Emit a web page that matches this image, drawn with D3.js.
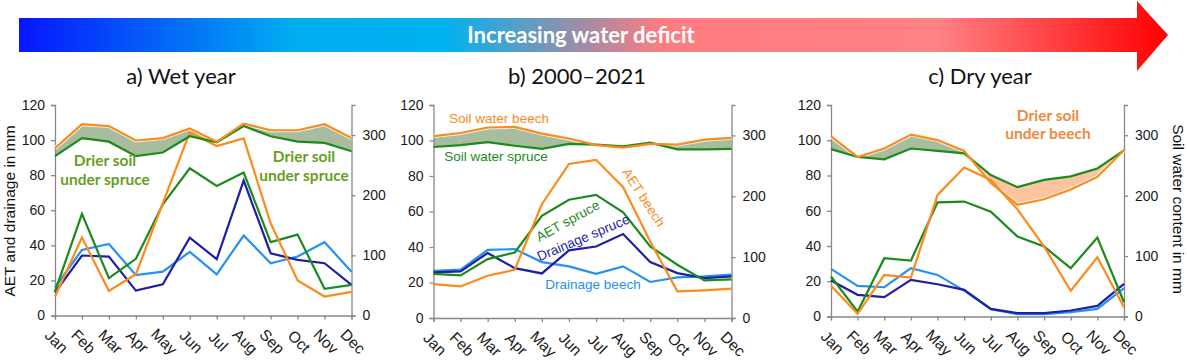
<!DOCTYPE html>
<html>
<head>
<meta charset="utf-8">
<script src="https://cdn.jsdelivr.net/npm/d3@7"></script>
<style>
  body { margin: 0; background: #fff; }
  svg { display: block; }
</style>
</head>
<body>
<div id="chart"></div>
<script>
// months on the x axis
var months = ["Jan","Feb","Mar","Apr","May","Jun","Jul","Aug","Sep","Oct","Nov","Dec"];
var leftTicks = [0, 20, 40, 60, 80, 100, 120];
var rightTicks = [0, 100, 200, 300];

// a) wet year
var wetSoilBeech   = [278, 318, 315, 291, 295, 311, 289, 319, 308, 308, 318, 295];
var wetSoilSpruce  = [265, 295, 289, 265, 271, 298, 288, 315, 298, 289, 287, 273];
var wetAetBeech    = [10.8, 44.4, 14, 23.5, 64, 104.4, 96.6, 101, 52.6, 20, 10.8, 13.5];
var wetAetSpruce   = [13.7, 57.9, 21.3, 32.3, 63.4, 83.9, 73.9, 81.5, 41.8, 46.1, 15.2, 17.5];
var wetDrainSpruce = [13.1, 34.2, 33.6, 14.2, 17.8, 44.4, 32.1, 76.9, 35.5, 31.7, 29.8, 17.5];
var wetDrainBeech  = [16.1, 37.4, 40.8, 23, 25, 36.3, 23.5, 45.6, 29.8, 33.6, 41.8, 25];

// b) 2000-2021
var avgSoilBeech   = [299, 304, 313, 314, 303, 295, 284, 280, 286, 285, 293, 296];
var avgSoilSpruce  = [281, 284, 289, 283, 278, 286, 285, 282, 288, 277, 277, 278];
var avgAetBeech    = [19.1, 17.8, 23.8, 27.2, 64.1, 86.8, 89.1, 73.7, 43.1, 15, 15.6, 16.5];
var avgAetSpruce   = [24.9, 24, 33.2, 36.9, 57.6, 66.6, 69.4, 59.6, 40.3, 30, 21.2, 21.8];
var avgDrainSpruce = [25.7, 26.3, 36.6, 28.1, 25.1, 38.1, 40.3, 47.3, 31.5, 25.3, 22.5, 23.4];
var avgDrainBeech  = [26.6, 27.2, 38.4, 38.8, 31.5, 29.1, 24.9, 29.1, 20.3, 22.9, 23.4, 24.4];

// c) dry year
var drySoilBeech   = [298, 264, 278, 301, 292, 274, 221, 185, 194, 210, 231, 275];
var drySoilSpruce  = [277, 264, 260, 278, 274, 270, 234, 214, 226, 232, 245, 275];
var dryAetBeech    = [17.4, 1.5, 23.6, 22.1, 69, 84.5, 77.5, 60.8, 39.7, 14.6, 33.6, 5.3];
var dryAetSpruce   = [22.7, 2.8, 33.1, 31.7, 64.8, 65.2, 59.5, 45.4, 39.7, 27.4, 44.8, 8.1];
var dryDrainSpruce = [20.4, 12.3, 11, 20.8, 18.3, 15.1, 4.3, 1.9, 1.9, 3.4, 6, 18.5];
var dryDrainBeech  = [27, 17.4, 16.6, 27.4, 23.6, 14.7, 4.2, 1.3, 1.3, 2.5, 4.3, 16.1];

var ORANGE = "#fb8b1c", GREEN = "#1d8a1d", DARKBLUE = "#1f1fa6", LIGHTBLUE = "#2592f2";
var AXIS = "#888888";
var ARIAL = "'Liberation Sans', Arial, sans-serif";
var CALIBRI = "Lato, 'Open Sans', sans-serif";

var svg = d3.select("#chart").append("svg")
    .attr("width", 1187)
    .attr("height", 361);

var defs = svg.append("defs");

// header arrow
var grad = defs.append("linearGradient")
    .attr("id", "arrowGrad")
    .attr("x1", "0%").attr("x2", "100%").attr("y1", "0%").attr("y2", "0%");
[[0, "#0616ff"], [0.24, "#00aef0"], [0.37, "#00b2f0"], [0.5, "#ad8aa0"], [0.56, "#ff7c80"],
 [0.8, "#ff8285"], [1, "#ff0000"]].forEach(function(s) {
    grad.append("stop").attr("offset", s[0]).attr("stop-color", s[1]);
});

svg.append("path")
    .attr("d", "M19,18 L1137,18 L1137,1 L1168,35 L1137,71 L1137,52 L19,52 Z")
    .attr("fill", "url(#arrowGrad)");

svg.append("text")
    .attr("x", 581).attr("y", 42.5)
    .attr("text-anchor", "middle")
    .attr("font-family", CALIBRI)
    .attr("font-weight", "bold")
    .attr("font-size", "22px")
    .attr("fill", "#fff")
    .text("Increasing water deficit");

function drawPanel(cfg) {
    var x = d3.scalePoint().domain(months).range([cfg.x0, cfg.x1]);
    var yL = d3.scaleLinear().domain([0, 120]).range([cfg.yBot, cfg.yTop]);
    var yR = d3.scaleLinear().domain([0, 350]).range([cfg.yBot, cfg.yTop]);

    var g = svg.append("g");

    // title
    svg.append("text")
        .attr("x", cfg.titleX).attr("y", 84)
        .attr("text-anchor", "middle")
        .attr("font-family", CALIBRI)
        .attr("font-size", "22px")
        .attr("fill", "#111")
        .text(cfg.title);

    var rows = months.map(function(m, i) {
        return {m: m, beech: cfg.soilBeech[i], spruce: cfg.soilSpruce[i]};
    });

    // clip regions above / below the spruce soil water line
    var above = d3.area().x(function(d) { return x(d.m); })
        .y0(cfg.yTop - 20).y1(function(d) { return yR(d.spruce); });
    var below = d3.area().x(function(d) { return x(d.m); })
        .y0(function(d) { return yR(d.spruce); }).y1(cfg.yBot + 20);
    defs.append("clipPath").attr("id", cfg.id + "Above").append("path").attr("d", above(rows));
    defs.append("clipPath").attr("id", cfg.id + "Below").append("path").attr("d", below(rows));

    var between = d3.area().x(function(d) { return x(d.m); })
        .y0(function(d) { return yR(d.spruce); })
        .y1(function(d) { return yR(d.beech); });

    g.append("path").attr("d", between(rows))
        .attr("fill", "#a7bd9d")
        .attr("clip-path", "url(#" + cfg.id + "Above)");
    g.append("path").attr("d", between(rows))
        .attr("fill", "#fcc5a0")
        .attr("clip-path", "url(#" + cfg.id + "Below)");

    // axes
    g.append("g")
        .attr("transform", "translate(" + cfg.x0 + ",0)")
        .call(d3.axisLeft(yL).tickValues(leftTicks).tickSize(4).tickPadding(6))
        .call(styleAxis);
    g.append("g")
        .attr("transform", "translate(" + cfg.x1 + ",0)")
        .call(d3.axisRight(yR).tickValues(rightTicks).tickSize(4).tickPadding(7))
        .call(styleAxis);
    var xa = g.append("g")
        .attr("transform", "translate(0," + cfg.yBot + ")")
        .call(d3.axisBottom(x).tickSize(4))
        .call(styleAxis);
    xa.selectAll("text")
        .attr("y", 0).attr("dy", "0.35em")
        .attr("text-anchor", "middle")
        .attr("font-size", "15.5px")
        .attr("transform", "translate(1,26) rotate(45)");

    var line = function(scale) {
        return d3.line().x(function(d, i) { return x(months[i]); })
            .y(function(d) { return scale(d); });
    };

    // soil water lines with a light halo
    g.append("path").attr("d", line(yR)(cfg.soilBeech))
        .attr("fill", "none").attr("stroke", "#fff").attr("stroke-width", 4).attr("stroke-opacity", 0.8);
    var series = [
        [cfg.drainBeech, yL, LIGHTBLUE],
        [cfg.drainSpruce, yL, DARKBLUE],
        [cfg.aetSpruce, yL, GREEN],
        [cfg.aetBeech, yL, ORANGE],
        [cfg.soilSpruce, yR, GREEN],
        [cfg.soilBeech, yR, ORANGE]
    ];
    series.forEach(function(s) {
        g.append("path").attr("d", line(s[1])(s[0]))
            .attr("fill", "none")
            .attr("stroke", s[2])
            .attr("stroke-width", 2.2)
            .attr("stroke-linejoin", "miter");
    });

    (cfg.notes || []).forEach(function(n) {
        var t = svg.append("text")
            .attr("x", n.x).attr("y", n.y)
            .attr("text-anchor", "middle")
            .attr("font-family", n.font)
            .attr("font-weight", n.bold ? "bold" : "normal")
            .attr("font-size", n.size)
            .attr("fill", n.color)
            .attr("transform", n.rot ? "rotate(" + n.rot + "," + n.x + "," + n.y + ")" : null);
        n.lines.forEach(function(l, i) {
            t.append("tspan").attr("x", n.x).attr("dy", i === 0 ? 0 : n.lh).text(l);
        });
    });
}

function styleAxis(sel) {
    sel.select(".domain").attr("stroke", AXIS).attr("stroke-width", 1.3);
    sel.selectAll(".tick line").attr("stroke", AXIS).attr("stroke-width", 1.3);
    sel.selectAll(".tick text")
        .attr("font-family", ARIAL)
        .attr("font-size", "14px")
        .attr("fill", "#1a1a1a");
}

drawPanel({
    id: "wet", title: "a) Wet year", titleX: 181,
    x0: 55, x1: 351.5, yTop: 105, yBot: 315.5,
    soilBeech: wetSoilBeech, soilSpruce: wetSoilSpruce,
    aetBeech: wetAetBeech, aetSpruce: wetAetSpruce,
    drainSpruce: wetDrainSpruce, drainBeech: wetDrainBeech,
    notes: [
        {x: 105, y: 166, lines: ["Drier soil", "under spruce"], lh: 19, font: CALIBRI, bold: true, size: "15.5px", color: "#66a023"},
        {x: 304, y: 162, lines: ["Drier soil", "under spruce"], lh: 19, font: CALIBRI, bold: true, size: "15.5px", color: "#66a023"}
    ]
});

drawPanel({
    id: "avg", title: "b) 2000\u20132021", titleX: 577,
    x0: 433.5, x1: 731.5, yTop: 105, yBot: 318,
    soilBeech: avgSoilBeech, soilSpruce: avgSoilSpruce,
    aetBeech: avgAetBeech, aetSpruce: avgAetSpruce,
    drainSpruce: avgDrainSpruce, drainBeech: avgDrainBeech,
    notes: [
        {x: 499, y: 123, lines: ["Soil water beech"], font: ARIAL, size: "13.5px", color: ORANGE},
        {x: 496, y: 161, lines: ["Soil water spruce"], font: ARIAL, size: "13.5px", color: GREEN},
        {x: 640, y: 200, lines: ["AET beech"], font: ARIAL, size: "13.5px", color: ORANGE, rot: 57},
        {x: 570, y: 225, lines: ["AET spruce"], font: ARIAL, size: "13.5px", color: GREEN, rot: -29},
        {x: 585, y: 242, lines: ["Drainage spruce"], font: ARIAL, size: "13.5px", color: DARKBLUE, rot: -23},
        {x: 593, y: 289, lines: ["Drainage beech"], font: ARIAL, size: "13.5px", color: LIGHTBLUE}
    ]
});

drawPanel({
    id: "dry", title: "c) Dry year", titleX: 980,
    x0: 831, x1: 1124, yTop: 105, yBot: 316.5,
    soilBeech: drySoilBeech, soilSpruce: drySoilSpruce,
    aetBeech: dryAetBeech, aetSpruce: dryAetSpruce,
    drainSpruce: dryDrainSpruce, drainBeech: dryDrainBeech,
    notes: [
        {x: 1048, y: 121, lines: ["Drier soil", "under beech"], lh: 18, font: CALIBRI, bold: true, size: "15.5px", color: "#f08a3c"}
    ]
});

// axis titles
svg.append("text")
    .attr("transform", "translate(15,211) rotate(-90)")
    .attr("text-anchor", "middle")
    .attr("font-family", ARIAL)
    .attr("font-size", "15.5px")
    .attr("fill", "#111")
    .text("AET and drainage in mm");

svg.append("text")
    .attr("transform", "translate(1173,209) rotate(90)")
    .attr("text-anchor", "middle")
    .attr("font-family", ARIAL)
    .attr("font-size", "15.5px")
    .attr("fill", "#111")
    .text("Soil water content in mm");
</script>
</body>
</html>
